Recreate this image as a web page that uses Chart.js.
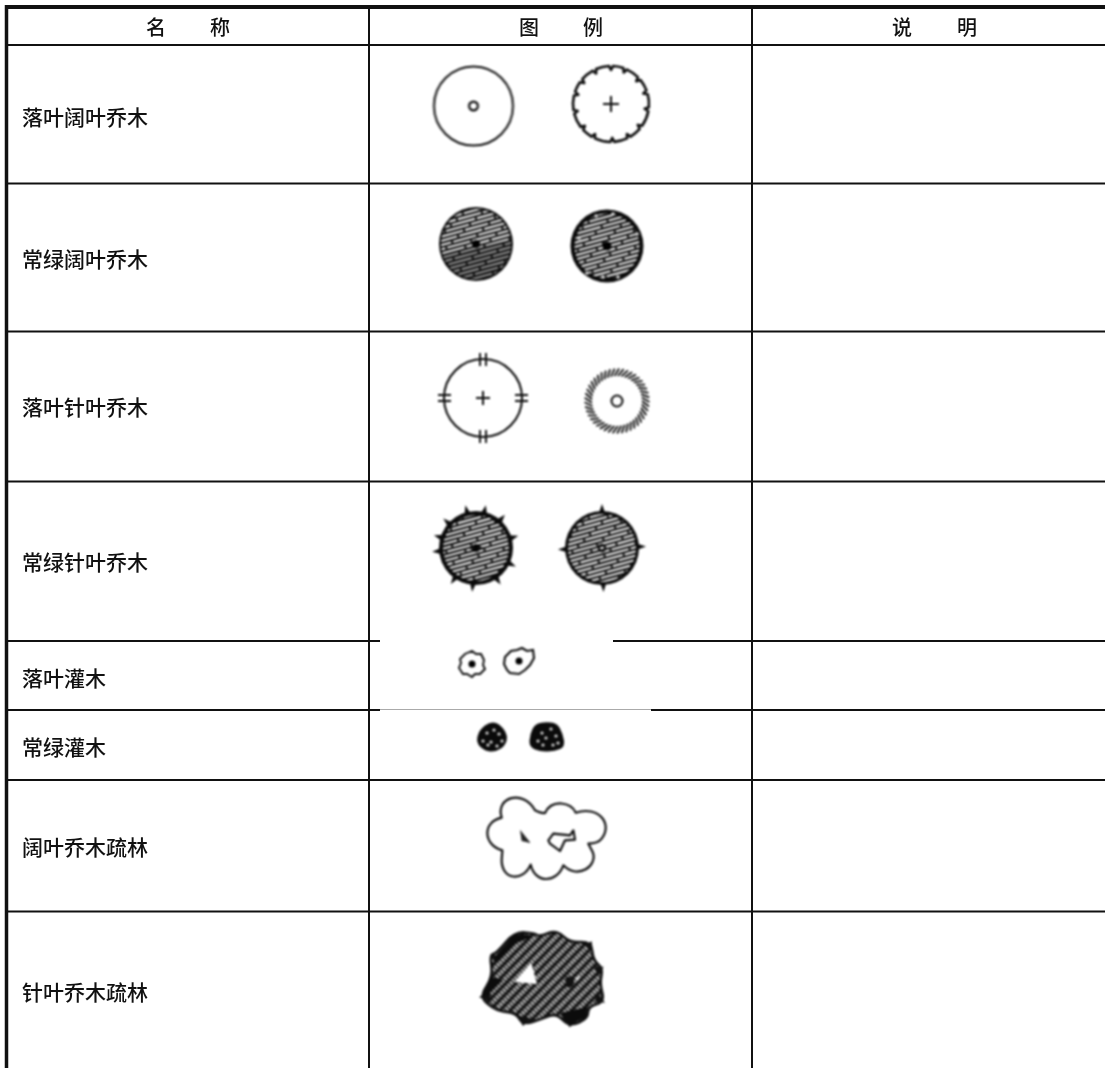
<!DOCTYPE html>
<html>
<head>
<meta charset="utf-8">
<title>图例</title>
<script src="https://cdn.jsdelivr.net/npm/chart.js@4/dist/chart.umd.min.js"></script>
<style>
  html, body { margin: 0; padding: 0; background: #fff; }
  canvas { display: block; }
</style>
</head>
<body>
<canvas id="myChart" width="1105" height="1068"></canvas>
<script>
"use strict";

// Table content
const headerChars = ["名", "称", "图", "例", "说", "明"];
const headerX = [156, 220, 529, 593, 902, 967];
const rowNames = ["落叶阔叶乔木", "常绿阔叶乔木", "落叶针叶乔木", "常绿针叶乔木", "落叶灌木", "常绿灌木", "阔叶乔木疏林", "针叶乔木疏林"];
const rowLabelY = [117, 259, 407.5, 562, 678, 747, 847, 992.5];
const rowEdges = [45, 183.5, 331.5, 481.5, 641, 710, 780, 911.5];
const columnEdges = [369, 752];

// Symbols of the legend column
const symbolKinds = ["ring", "scallop", "broad", "broadEdge", "tick", "fringe", "spiky", "cross", "shrubA", "shrubB", "darkA", "darkB", "cloud", "darkCloud"];
const symbolX = [473.5, 611, 476, 607, 483, 617, 476, 602, 472, 519, 492, 547, 546, 543];
const symbolY = [106, 104, 244, 246, 398, 401, 548, 548, 664, 661, 737, 737, 837, 980];

const INK = "#0a0a0a";

function disc(c, r) {
    c.beginPath();
    c.arc(0, 0, r, 0, Math.PI * 2);
}

function hatch(c, size, angle, gap, width, color, dash) {
    c.save();
    c.rotate(angle);
    c.strokeStyle = color;
    c.lineWidth = width;
    c.setLineDash(dash || []);
    let row = 0;
    for (let y = -size; y <= size; y += gap) {
        c.lineDashOffset = row * 7.3;
        c.beginPath();
        c.moveTo(-size, y);
        c.lineTo(size, y);
        c.stroke();
        row++;
    }
    c.restore();
}

function plus(c, r) {
    c.beginPath();
    c.moveTo(-r, 0);
    c.lineTo(r, 0);
    c.moveTo(0, -r);
    c.lineTo(0, r);
    c.stroke();
}

function spikes(c, r, len, base, angles) {
    c.fillStyle = INK;
    angles.forEach(function (deg) {
        const a = deg * Math.PI / 180;
        c.save();
        c.rotate(a);
        c.beginPath();
        c.moveTo(r - 2, -base);
        c.lineTo(r + len, 0);
        c.lineTo(r - 2, base);
        c.closePath();
        c.fill();
        c.restore();
    });
}

function hatchedDisc(c, r, ring) {
    c.save();
    disc(c, r);
    c.fillStyle = INK;
    c.fill();
    disc(c, r - ring);
    c.clip();
    hatch(c, r + 4, -0.27, 4.1, 1.9, "#fff", [24, 2]);
    c.restore();
}

function path(c, pts) {
    c.beginPath();
    pts.forEach(function (p, i) {
        if (i === 0) c.moveTo(p[0], p[1]);
        else c.lineTo(p[0], p[1]);
    });
    c.closePath();
}

// rounded closed outline through the midpoints of a traced polygon
function softPath(c, pts) {
    const n = pts.length;
    c.beginPath();
    c.moveTo((pts[n - 1][0] + pts[0][0]) / 2, (pts[n - 1][1] + pts[0][1]) / 2);
    pts.forEach(function (p, i) {
        const q = pts[(i + 1) % n];
        c.quadraticCurveTo(p[0], p[1], (p[0] + q[0]) / 2, (p[1] + q[1]) / 2);
    });
    c.closePath();
}

function dots(c, pts, r, color) {
    c.fillStyle = color;
    pts.forEach(function (p) {
        c.beginPath();
        c.arc(p[0], p[1], r, 0, Math.PI * 2);
        c.fill();
    });
}

const draw = {
    ring: function (c) {
        c.lineWidth = 2;
        disc(c, 39.5);
        c.stroke();
        c.lineWidth = 2.2;
        disc(c, 4.4);
        c.stroke();
    },
    scallop: function (c) {
        c.lineWidth = 2.6;
        c.lineJoin = "round";
        const notches = [8, 38, 62, 88, 118, 140, 168, 196, 218, 244, 270, 292, 318, 342];
        c.beginPath();
        notches.forEach(function (deg, i) {
            const next = notches[(i + 1) % notches.length] + (i === notches.length - 1 ? 360 : 0);
            const a = (deg + 3) * Math.PI / 180;
            const b = (next - 3) * Math.PI / 180;
            const m = next * Math.PI / 180;
            c.arc(0, 0, 38, a, b);
            c.lineTo(Math.cos(m) * 34, Math.sin(m) * 34);
        });
        c.closePath();
        c.stroke();
        c.lineWidth = 2;
        plus(c, 8);
    },
    broad: function (c) {
        hatchedDisc(c, 37, 2);
        c.save();
        disc(c, 35);
        c.clip();
        c.fillStyle = "rgba(10,10,10,0.4)";
        c.beginPath();
        c.moveTo(-40, 14);
        c.lineTo(40, -6);
        c.lineTo(40, 40);
        c.lineTo(-40, 40);
        c.closePath();
        c.fill();
        c.restore();
        c.fillStyle = "#000";
        disc(c, 4);
        c.fill();
    },
    broadEdge: function (c) {
        hatchedDisc(c, 36.5, 4);
        c.fillStyle = "#000";
        disc(c, 4.5);
        c.fill();
        dots(c, [[-11, -30], [6, -32], [-28, -8], [30, -12], [-20, 27], [-4, 31], [11, 31]], 1.8, "#ddd");
    },
    tick: function (c) {
        c.lineWidth = 2.1;
        disc(c, 39);
        c.stroke();
        c.lineWidth = 1.9;
        [0, 90, 180, 270].forEach(function (deg) {
            c.save();
            c.rotate(deg * Math.PI / 180);
            c.beginPath();
            c.moveTo(32, -3);
            c.lineTo(45, -3);
            c.moveTo(32, 3);
            c.lineTo(45, 3);
            c.stroke();
            c.restore();
        });
        c.lineWidth = 2;
        plus(c, 7);
    },
    fringe: function (c) {
        c.lineWidth = 1.8;
        for (let deg = 0; deg < 360; deg += 8) {
            const a = deg * Math.PI / 180;
            c.beginPath();
            c.moveTo(Math.cos(a) * 25, Math.sin(a) * 25);
            c.lineTo(Math.cos(a + 0.17) * 32.5, Math.sin(a + 0.17) * 32.5);
            c.stroke();
        }
        c.lineWidth = 2;
        disc(c, 5.5);
        c.stroke();
    },
    spiky: function (c) {
        spikes(c, 36, 8, 3.5, [-104, -77, -49, -16, 25, 56, 95, 125, 175, -163, -138]);
        hatchedDisc(c, 37, 4);
        c.fillStyle = "#000";
        disc(c, 4);
        c.fill();
        spikes(c, 3, 5, 3, [0, 180]);
    },
    cross: function (c) {
        spikes(c, 36, 8, 3.5, [-90, -2, 88, 178]);
        hatchedDisc(c, 37, 3);
        c.lineWidth = 2.2;
        disc(c, 3.2);
        c.stroke();
    },
    shrubA: function (c) {
        c.lineWidth = 1.9;
        path(c, [[0, -13], [4, -10], [9, -10], [12, -4], [11, 1], [13, 5], [8, 10], [3, 10], [0, 13], [-5, 10], [-9, 10], [-13, 4], [-11, -1], [-12, -5], [-7, -10]]);
        c.stroke();
        c.fillStyle = "#000";
        disc(c, 3.5);
        c.fill();
    },
    shrubB: function (c) {
        c.lineWidth = 2.1;
        path(c, [[-14, -4], [-8, -10], [-2, -11], [3, -13], [8, -10], [14, -11], [15, -3], [11, 4], [6, 9], [0, 13], [-9, 12], [-12, 9], [-15, 3]]);
        c.stroke();
        c.fillStyle = "#000";
        disc(c, 3.5);
        c.fill();
    },
    darkA: function (c) {
        softPath(c, [[-1, -16], [9, -12], [16, -1], [13, 9], [3, 15], [-7, 14], [-16, 6], [-13, -7]]);
        c.fillStyle = INK;
        c.fill();
        dots(c, [[-5, -4], [2, -7], [7, -3], [-9, 4], [-4, 8], [5, 9], [10, 4], [-1, 5]], 1.6, "#ddd");
    },
    darkB: function (c) {
        softPath(c, [[-12, -13], [-2, -15], [10, -14], [16, -3], [18, 10], [8, 14], [-6, 15], [-18, 10], [-17, -3]]);
        c.fillStyle = INK;
        c.fill();
        dots(c, [[-5, -4], [4, -8], [9, -1], [-9, 4], [-4, 8], [6, 8], [11, 6], [-1, 1]], 1.6, "#ddd");
    },
    cloud: function (c) {
        // outline traced at 3x, around the middle of the shape
        c.save();
        c.scale(1 / 3, 1 / 3);
        c.translate(-258, -170);
        c.lineWidth = 6.5;
        c.lineJoin = "round";
        c.beginPath();
        c.moveTo(125, 112);
        c.bezierCurveTo(105, 50, 190, 25, 225, 90);
        c.bezierCurveTo(235, 95, 245, 100, 255, 98);
        c.bezierCurveTo(275, 55, 335, 65, 347, 97);
        c.bezierCurveTo(415, 75, 460, 130, 425, 175);
        c.bezierCurveTo(415, 188, 400, 190, 385, 190);
        c.lineTo(398, 215);
        c.bezierCurveTo(415, 255, 355, 300, 310, 255);
        c.bezierCurveTo(290, 310, 225, 310, 212, 253);
        c.bezierCurveTo(190, 305, 125, 300, 125, 240);
        c.lineTo(127, 210);
        c.bezierCurveTo(70, 195, 65, 125, 125, 112);
        c.closePath();
        c.stroke();
        path(c, [[180, 148], [185, 182], [212, 188]]);
        c.fillStyle = "#222";
        c.fill();
        path(c, [[265, 180], [280, 160], [330, 165], [340, 150], [345, 178], [315, 180], [300, 212], [270, 190]]);
        c.stroke();
        c.restore();
    },
    darkCloud: function (c) {
        c.save();
        c.scale(1 / 3, 1 / 3);
        c.translate(-250, -600);
        const outline = [[60, 650], [100, 590], [90, 525], [110, 520], [165, 455], [225, 460], [240, 470], [290, 450], [330, 488], [395, 485], [400, 540], [430, 565], [420, 610], [435, 665], [385, 680], [385, 715], [330, 740], [290, 700], [250, 715], [190, 735], [170, 700], [130, 695], [100, 685]];
        softPath(c, outline);
        c.fillStyle = "#111";
        c.fill();
        c.save();
        softPath(c, outline);
        c.clip();
        c.translate(250, 600);
        hatch(c, 260, -0.8, 22, 13, "#c8c8c8", [6, 4]);
        c.restore();
        c.lineWidth = 8;
        c.strokeStyle = "#111";
        c.lineJoin = "round";
        softPath(c, outline);
        c.stroke();
        // thorns on the outline
        c.fillStyle = "#111";
        [[[92, 522], [118, 530], [105, 550]], [[396, 484], [372, 495], [400, 515]], [[432, 560], [405, 560], [415, 590]], [[436, 668], [405, 665], [415, 640]], [[58, 652], [90, 630], [95, 665]], [[190, 738], [170, 705], [215, 715]], [[330, 742], [310, 715], [355, 720]]].forEach(function (t) {
            path(c, t);
            c.fill();
        });
        c.fillStyle = "#0c0c0c";
        path(c, [[105, 530], [165, 462], [225, 466], [170, 490], [115, 545]]);
        c.fill();
        path(c, [[65, 650], [95, 590], [130, 600], [85, 645]]);
        c.fill();
        path(c, [[300, 700], [385, 680], [378, 712], [330, 735]]);
        c.fill();
        path(c, [[215, 548], [232, 612], [165, 606]]);
        c.fillStyle = "#fff";
        c.fill();
        path(c, [[318, 590], [345, 590], [340, 620], [318, 622]]);
        c.fillStyle = "#111";
        c.fill();
        path(c, [[345, 592], [362, 590], [352, 604]]);
        c.fillStyle = "#ddd";
        c.fill();
        c.restore();
    },
};

// Each symbol is a small sprite, softened a little like the printed scan
function sprite(kind) {
    const size = 170;
    const raw = document.createElement("canvas");
    raw.width = size;
    raw.height = size;
    const c = raw.getContext("2d");
    c.translate(size / 2, size / 2);
    c.strokeStyle = INK;
    draw[kind](c);
    const out = document.createElement("canvas");
    out.width = size;
    out.height = size;
    const o = out.getContext("2d");
    o.filter = "blur(0.8px)";
    o.drawImage(raw, 0, 0);
    return out;
}

function rule(x1, y1, x2, y2, width, color) {
    return {
        type: "line",
        data: [{ x: x1, y: y1 }, { x: x2, y: y2 }],
        borderColor: color || "#111",
        borderWidth: width,
        pointRadius: 0,
        fill: false,
    };
}

const LEFT = 6.5;
const RIGHT = 1105;
const BOTTOM = 1068;

const rules = [
    rule(5, 7, RIGHT, 7, 4),
    rule(LEFT, 5, LEFT, BOTTOM, 3.5),
];
columnEdges.forEach(function (x) {
    rules.push(rule(x, 7, x, BOTTOM, 2));
});
rowEdges.forEach(function (y, i) {
    // the two shrub rows have a pasted patch over the rule
    if (i === 4) {
        rules.push(rule(LEFT, y, 380, y, 2));
        rules.push(rule(613, y, RIGHT, y, 2));
    } else if (i === 5) {
        rules.push(rule(LEFT, y, 380, y, 2));
        rules.push(rule(380, y - 0.5, 651, y - 0.5, 1, "#aaa"));
        rules.push(rule(651, y, RIGHT, y, 2));
    } else {
        rules.push(rule(LEFT, y, RIGHT, y, 2));
    }
});

const tableText = {
    id: "tableText",
    afterDatasetsDraw(chart) {
        const ctx = chart.ctx;
        const xs = chart.scales.x;
        const ys = chart.scales.y;
        ctx.save();
        ctx.fillStyle = "#111";
        ctx.textBaseline = "middle";
        ctx.textAlign = "center";
        ctx.font = '500 20px "Noto Sans CJK SC"';
        headerChars.forEach(function (ch, i) {
            ctx.fillText(ch, xs.getPixelForValue(headerX[i]), ys.getPixelForValue(27));
        });
        ctx.textAlign = "left";
        ctx.font = '500 21px "Noto Sans CJK SC"';
        rowNames.forEach(function (name, i) {
            ctx.fillText(name, xs.getPixelForValue(22), ys.getPixelForValue(rowLabelY[i]));
        });
        ctx.restore();
    },
};

// Config
const config = {
    type: "scatter",
    data: {
        datasets: rules.concat([
            {
                label: "图例",
                data: symbolKinds.map(function (kind, i) {
                    return { x: symbolX[i], y: symbolY[i] };
                }),
                pointStyle: symbolKinds.map(sprite),
                pointRadius: 5,
                showLine: false,
            },
        ]),
    },
    options: {
        responsive: false,
        animation: false,
        devicePixelRatio: 1,
        layout: { padding: 0, autoPadding: false },
        plugins: {
            legend: { display: false },
            tooltip: { enabled: false },
        },
        scales: {
            x: { type: "linear", min: 0, max: 1105, display: false },
            y: { type: "linear", min: 0, max: 1068, reverse: true, display: false },
        },
    },
    plugins: [tableText],
};

const myChart = new Chart(document.getElementById("myChart"), config);
</script>
</body>
</html>
